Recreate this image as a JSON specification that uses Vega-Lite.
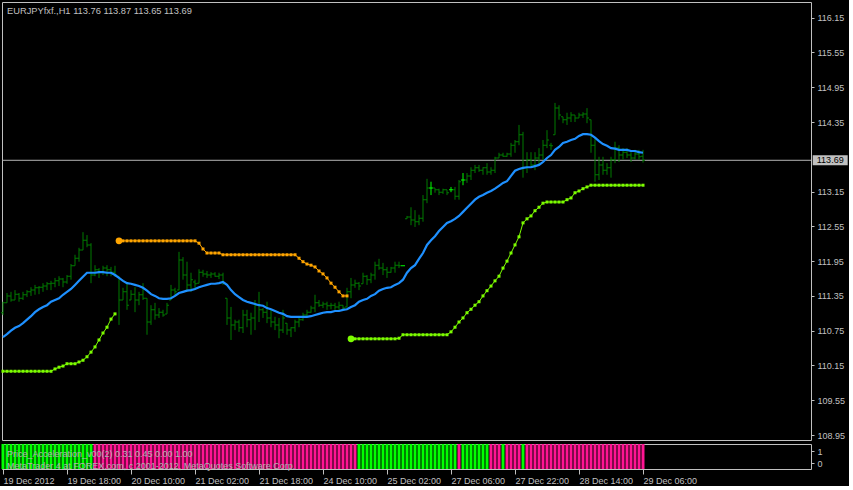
{
"$schema":"https://vega.github.io/schema/vega-lite/v6.json",
"background":"#000000",
"padding":{"left":-2,"top":1,"right":0,"bottom":0},
"spacing":1,
"config":{
 "view":{"stroke":"#c0c0c0","strokeWidth":1},
 "axis":{"domain":false,"grid":false,"labelColor":"#c0c0c0","tickColor":"#c0c0c0","labelFont":"Liberation Sans","labelFontSize":9,"tickSize":3,"labelPadding":3,"labelOverlap":false,"labelFlush":false},
 "text":{"font":"Liberation Sans","fontSize":9}
},
"datasets":{"bars":[
{"i":0,"o":111.06,"h":111.25,"l":111.02,"c":111.23,"ma":110.64,"g":110.05,"gs":"a","pa":"up"},
{"i":1,"o":111.23,"h":111.40,"l":111.23,"c":111.35,"ma":110.69,"g":110.05,"gs":"a","pa":"up"},
{"i":2,"o":111.35,"h":111.42,"l":111.25,"c":111.28,"ma":110.75,"g":110.05,"gs":"a","pa":"up"},
{"i":3,"o":111.28,"h":111.45,"l":111.28,"c":111.38,"ma":110.80,"g":110.05,"gs":"a","pa":"up"},
{"i":4,"o":111.38,"h":111.40,"l":111.25,"c":111.31,"ma":110.83,"g":110.05,"gs":"a","pa":"up"},
{"i":5,"o":111.31,"h":111.42,"l":111.28,"c":111.37,"ma":110.88,"g":110.05,"gs":"a","pa":"up"},
{"i":6,"o":111.37,"h":111.45,"l":111.33,"c":111.42,"ma":110.94,"g":110.05,"gs":"a","pa":"up"},
{"i":7,"o":111.42,"h":111.50,"l":111.35,"c":111.45,"ma":111.00,"g":110.05,"gs":"a","pa":"up"},
{"i":8,"o":111.45,"h":111.54,"l":111.37,"c":111.49,"ma":111.07,"g":110.05,"gs":"a","pa":"up"},
{"i":9,"o":111.49,"h":111.52,"l":111.38,"c":111.50,"ma":111.12,"g":110.05,"gs":"a","pa":"up"},
{"i":10,"o":111.50,"h":111.57,"l":111.42,"c":111.52,"ma":111.16,"g":110.05,"gs":"a","pa":"up"},
{"i":11,"o":111.52,"h":111.59,"l":111.45,"c":111.56,"ma":111.19,"g":110.05,"gs":"a","pa":"up"},
{"i":12,"o":111.56,"h":111.61,"l":111.45,"c":111.57,"ma":111.25,"g":110.05,"gs":"a","pa":"up"},
{"i":13,"o":111.57,"h":111.66,"l":111.50,"c":111.61,"ma":111.28,"g":110.09,"gs":"a","pa":"up"},
{"i":14,"o":111.61,"h":111.69,"l":111.52,"c":111.64,"ma":111.31,"g":110.12,"gs":"a","pa":"up"},
{"i":15,"o":111.64,"h":111.66,"l":111.50,"c":111.59,"ma":111.37,"g":110.14,"gs":"a","pa":"up"},
{"i":16,"o":111.59,"h":111.71,"l":111.56,"c":111.69,"ma":111.42,"g":110.18,"gs":"a","pa":"up"},
{"i":17,"o":111.69,"h":111.90,"l":111.63,"c":111.87,"ma":111.47,"g":110.18,"gs":"a","pa":"up"},
{"i":18,"o":111.87,"h":112.06,"l":111.87,"c":112.00,"ma":111.54,"g":110.18,"gs":"a","pa":"up"},
{"i":19,"o":112.00,"h":112.18,"l":111.94,"c":112.14,"ma":111.61,"g":110.21,"gs":"a","pa":"up"},
{"i":20,"o":112.14,"h":112.45,"l":112.14,"c":112.31,"ma":111.68,"g":110.24,"gs":"a","pa":"up"},
{"i":21,"o":112.31,"h":112.40,"l":112.19,"c":112.23,"ma":111.75,"g":110.30,"gs":"a","pa":"up"},
{"i":22,"o":112.23,"h":112.26,"l":111.57,"c":111.71,"ma":111.75,"g":110.38,"gs":"a","pa":"up"},
{"i":23,"o":111.71,"h":111.88,"l":111.69,"c":111.80,"ma":111.75,"g":110.47,"gs":"a","pa":"down"},
{"i":24,"o":111.80,"h":111.83,"l":111.66,"c":111.76,"ma":111.76,"g":110.59,"gs":"a","pa":"down"},
{"i":25,"o":111.76,"h":111.87,"l":111.71,"c":111.83,"ma":111.76,"g":110.71,"gs":"a","pa":"down"},
{"i":26,"o":111.83,"h":111.88,"l":111.69,"c":111.80,"ma":111.75,"g":110.81,"gs":"a","pa":"down"},
{"i":27,"o":111.80,"h":111.85,"l":111.69,"c":111.76,"ma":111.75,"g":110.95,"gs":"a","pa":"down"},
{"i":28,"o":111.76,"h":111.87,"l":111.68,"c":111.71,"ma":111.71,"g":111.04,"gs":"a","pa":"down"},
{"i":29,"o":111.69,"h":111.69,"l":110.85,"c":111.28,"ma":111.66,"r":112.30,"pa":"down"},
{"i":30,"o":111.28,"h":111.49,"l":111.28,"c":111.42,"ma":111.61,"r":112.30,"pa":"down"},
{"i":31,"o":111.42,"h":111.56,"l":111.11,"c":111.19,"ma":111.57,"r":112.30,"pa":"down"},
{"i":32,"o":111.28,"h":111.45,"l":111.28,"c":111.38,"ma":111.56,"r":112.30,"pa":"down"},
{"i":33,"o":111.38,"h":111.50,"l":111.07,"c":111.28,"ma":111.54,"r":112.30,"pa":"down"},
{"i":34,"o":111.28,"h":111.42,"l":111.19,"c":111.37,"ma":111.52,"r":112.30,"pa":"down"},
{"i":35,"o":111.37,"h":111.57,"l":111.28,"c":111.31,"ma":111.49,"r":112.30,"pa":"down"},
{"i":36,"o":111.31,"h":111.31,"l":110.68,"c":110.90,"ma":111.44,"r":112.30,"pa":"down"},
{"i":37,"o":110.90,"h":111.19,"l":110.85,"c":111.11,"ma":111.38,"r":112.30,"pa":"down"},
{"i":38,"o":111.11,"h":111.23,"l":110.94,"c":111.02,"ma":111.35,"r":112.30,"pa":"down"},
{"i":39,"o":111.02,"h":111.14,"l":110.97,"c":111.07,"ma":111.31,"r":112.30,"pa":"down"},
{"i":40,"o":111.07,"h":111.11,"l":110.99,"c":111.02,"ma":111.30,"r":112.30,"pa":"down"},
{"i":41,"o":111.04,"h":111.23,"l":111.04,"c":111.19,"ma":111.30,"r":112.30,"pa":"down"},
{"i":42,"o":111.28,"h":111.54,"l":111.28,"c":111.45,"ma":111.31,"r":112.30,"pa":"down"},
{"i":43,"o":111.45,"h":111.49,"l":111.35,"c":111.42,"ma":111.35,"r":112.30,"pa":"down"},
{"i":44,"o":111.45,"h":112.11,"l":111.45,"c":111.97,"ma":111.40,"r":112.30,"pa":"down"},
{"i":45,"o":111.97,"h":112.02,"l":111.63,"c":111.71,"ma":111.42,"r":112.30,"pa":"down"},
{"i":46,"o":111.71,"h":111.94,"l":111.42,"c":111.54,"ma":111.44,"r":112.30,"pa":"down"},
{"i":47,"o":111.54,"h":111.75,"l":111.42,"c":111.63,"ma":111.45,"r":112.30,"pa":"down"},
{"i":48,"o":111.59,"h":111.63,"l":111.45,"c":111.56,"ma":111.47,"r":112.30,"pa":"down"},
{"i":49,"o":111.57,"h":111.81,"l":111.57,"c":111.76,"ma":111.50,"r":112.26,"pa":"down"},
{"i":50,"o":111.76,"h":111.80,"l":111.68,"c":111.73,"ma":111.52,"r":112.16,"pa":"down"},
{"i":51,"o":111.73,"h":111.78,"l":111.66,"c":111.71,"ma":111.54,"r":112.09,"pa":"down"},
{"i":52,"o":111.71,"h":111.76,"l":111.66,"c":111.73,"ma":111.56,"r":112.09,"pa":"down"},
{"i":53,"o":111.73,"h":111.76,"l":111.68,"c":111.69,"ma":111.56,"r":112.09,"pa":"down"},
{"i":54,"o":111.69,"h":111.75,"l":111.64,"c":111.71,"ma":111.57,"r":112.09,"pa":"down"},
{"i":55,"o":111.71,"h":111.75,"l":111.54,"c":111.57,"ma":111.59,"r":112.06,"pa":"down"},
{"i":56,"o":111.31,"h":111.31,"l":110.85,"c":110.97,"ma":111.54,"r":112.06,"pa":"down"},
{"i":57,"o":110.97,"h":111.16,"l":110.59,"c":110.85,"ma":111.45,"r":112.06,"pa":"down"},
{"i":58,"o":110.85,"h":110.94,"l":110.76,"c":110.90,"ma":111.38,"r":112.06,"pa":"down"},
{"i":59,"o":110.90,"h":110.94,"l":110.73,"c":110.80,"ma":111.33,"r":112.06,"pa":"down"},
{"i":60,"o":110.80,"h":111.11,"l":110.71,"c":111.02,"ma":111.28,"r":112.06,"pa":"down"},
{"i":61,"o":111.02,"h":111.11,"l":110.81,"c":110.94,"ma":111.25,"r":112.06,"pa":"down"},
{"i":62,"o":110.94,"h":111.06,"l":110.68,"c":110.97,"ma":111.23,"r":112.06,"pa":"down"},
{"i":63,"o":110.97,"h":111.28,"l":110.76,"c":111.19,"ma":111.21,"r":112.06,"pa":"down"},
{"i":64,"o":111.19,"h":111.42,"l":110.90,"c":111.11,"ma":111.19,"r":112.06,"pa":"down"},
{"i":65,"o":111.11,"h":111.14,"l":110.97,"c":111.07,"ma":111.18,"r":112.06,"pa":"down"},
{"i":66,"o":111.07,"h":111.25,"l":110.88,"c":110.97,"ma":111.14,"r":112.06,"pa":"down"},
{"i":67,"o":110.97,"h":111.11,"l":110.81,"c":110.90,"ma":111.12,"r":112.06,"pa":"down"},
{"i":68,"o":110.90,"h":110.99,"l":110.76,"c":110.85,"ma":111.09,"r":112.06,"pa":"down"},
{"i":69,"o":110.85,"h":110.97,"l":110.62,"c":110.76,"ma":111.06,"r":112.06,"pa":"down"},
{"i":70,"o":110.76,"h":111.11,"l":110.71,"c":110.97,"ma":111.04,"r":112.06,"pa":"down"},
{"i":71,"o":110.88,"h":110.88,"l":110.68,"c":110.76,"ma":111.00,"r":112.06,"pa":"down"},
{"i":72,"o":110.76,"h":110.81,"l":110.64,"c":110.80,"ma":110.99,"r":112.06,"pa":"down"},
{"i":73,"o":110.80,"h":110.94,"l":110.73,"c":110.90,"ma":110.99,"r":112.06,"pa":"down"},
{"i":74,"o":110.90,"h":110.99,"l":110.81,"c":110.94,"ma":110.99,"r":112.00,"pa":"down"},
{"i":75,"o":110.94,"h":111.06,"l":110.92,"c":111.02,"ma":110.99,"r":111.94,"pa":"down"},
{"i":76,"o":111.02,"h":111.11,"l":110.99,"c":111.07,"ma":110.99,"r":111.90,"pa":"down"},
{"i":77,"o":111.07,"h":111.18,"l":111.06,"c":111.14,"ma":111.00,"r":111.88,"pa":"down"},
{"i":78,"o":111.14,"h":111.37,"l":111.07,"c":111.23,"ma":111.02,"r":111.85,"pa":"down"},
{"i":79,"o":111.23,"h":111.28,"l":111.16,"c":111.19,"ma":111.04,"r":111.78,"pa":"down"},
{"i":80,"o":111.19,"h":111.25,"l":111.14,"c":111.21,"ma":111.06,"r":111.73,"pa":"down"},
{"i":81,"o":111.21,"h":111.25,"l":111.11,"c":111.18,"ma":111.07,"r":111.66,"pa":"down"},
{"i":82,"o":111.18,"h":111.23,"l":111.12,"c":111.19,"ma":111.07,"r":111.57,"pa":"down"},
{"i":83,"o":111.19,"h":111.23,"l":111.11,"c":111.16,"ma":111.09,"r":111.50,"pa":"down"},
{"i":84,"o":111.16,"h":111.25,"l":111.11,"c":111.19,"ma":111.09,"r":111.42,"pa":"down"},
{"i":85,"o":111.19,"h":111.19,"l":111.11,"c":111.14,"ma":111.11,"r":111.35,"pa":"down"},
{"i":86,"o":111.16,"h":111.49,"l":111.16,"c":111.42,"ma":111.12,"r":111.35,"pa":"down"},
{"i":87,"o":111.42,"h":111.66,"l":111.31,"c":111.54,"ma":111.16,"g":110.61,"gs":"b","pa":"down"},
{"i":88,"o":111.54,"h":111.63,"l":111.49,"c":111.57,"ma":111.19,"g":110.61,"gs":"b","pa":"down"},
{"i":89,"o":111.57,"h":111.59,"l":111.45,"c":111.52,"ma":111.25,"g":110.61,"gs":"b","pa":"up"},
{"i":90,"o":111.56,"h":111.75,"l":111.56,"c":111.69,"ma":111.28,"g":110.61,"gs":"b","pa":"up"},
{"i":91,"o":111.69,"h":111.71,"l":111.54,"c":111.63,"ma":111.30,"g":110.61,"gs":"b","pa":"up"},
{"i":92,"o":111.63,"h":111.75,"l":111.57,"c":111.71,"ma":111.35,"g":110.61,"gs":"b","pa":"up"},
{"i":93,"o":111.71,"h":111.94,"l":111.63,"c":111.88,"ma":111.38,"g":110.61,"gs":"b","pa":"up"},
{"i":94,"o":111.88,"h":111.99,"l":111.80,"c":111.83,"ma":111.44,"g":110.61,"gs":"b","pa":"up"},
{"i":95,"o":111.83,"h":111.92,"l":111.71,"c":111.80,"ma":111.47,"g":110.61,"gs":"b","pa":"up"},
{"i":96,"o":111.80,"h":111.85,"l":111.66,"c":111.76,"ma":111.49,"g":110.61,"gs":"b","pa":"up"},
{"i":97,"o":111.76,"h":111.85,"l":111.75,"c":111.83,"ma":111.50,"g":110.61,"gs":"b","pa":"up"},
{"i":98,"o":111.83,"h":111.94,"l":111.75,"c":111.88,"ma":111.54,"g":110.61,"gs":"b","pa":"up"},
{"i":99,"o":111.88,"h":111.94,"l":111.83,"c":111.87,"ma":111.57,"g":110.62,"gs":"b","pa":"up"},
{"i":100,"o":111.87,"h":111.87,"l":111.87,"c":111.87,"ma":111.63,"g":110.68,"gs":"b","pa":"up"},
{"i":101,"o":112.68,"h":112.73,"l":112.68,"c":112.71,"ma":111.75,"g":110.68,"gs":"b","pa":"up"},
{"i":102,"o":112.71,"h":112.88,"l":112.57,"c":112.66,"ma":111.83,"g":110.68,"gs":"b","pa":"up"},
{"i":103,"o":112.66,"h":112.83,"l":112.54,"c":112.63,"ma":111.88,"g":110.68,"gs":"b","pa":"up"},
{"i":104,"o":112.63,"h":112.75,"l":112.57,"c":112.69,"ma":111.99,"g":110.68,"gs":"b","pa":"up"},
{"i":105,"o":112.69,"h":113.09,"l":112.63,"c":113.01,"ma":112.09,"g":110.68,"gs":"b","pa":"up"},
{"i":106,"o":113.01,"h":113.37,"l":112.95,"c":113.21,"ma":112.23,"g":110.68,"gs":"b","pa":"up"},
{"i":107,"o":113.21,"h":113.32,"l":113.09,"c":113.21,"ma":112.31,"g":110.68,"gs":"b","pa":"up"},
{"i":108,"o":113.21,"h":113.21,"l":113.13,"c":113.18,"ma":112.38,"g":110.68,"gs":"b","pa":"up"},
{"i":109,"o":113.18,"h":113.20,"l":113.09,"c":113.14,"ma":112.47,"g":110.68,"gs":"b","pa":"up"},
{"i":110,"o":113.14,"h":113.20,"l":113.11,"c":113.18,"ma":112.54,"g":110.68,"gs":"b","pa":"up"},
{"i":111,"o":113.18,"h":113.18,"l":113.09,"c":113.13,"ma":112.61,"g":110.68,"gs":"b","pa":"up"},
{"i":112,"o":113.18,"h":113.23,"l":113.14,"c":113.18,"ma":112.64,"g":110.73,"gs":"b","pa":"up"},
{"i":113,"o":113.18,"h":113.23,"l":113.01,"c":113.07,"ma":112.68,"g":110.81,"gs":"b","pa":"up"},
{"i":114,"o":113.07,"h":113.35,"l":113.01,"c":113.32,"ma":112.73,"g":110.90,"gs":"b","pa":"down"},
{"i":115,"o":113.35,"h":113.47,"l":113.26,"c":113.35,"ma":112.80,"g":110.97,"gs":"b","pa":"up"},
{"i":116,"o":113.35,"h":113.47,"l":113.30,"c":113.42,"ma":112.87,"g":111.06,"gs":"b","pa":"up"},
{"i":117,"o":113.42,"h":113.57,"l":113.35,"c":113.52,"ma":112.94,"g":111.12,"gs":"b","pa":"up"},
{"i":118,"o":113.52,"h":113.61,"l":113.47,"c":113.56,"ma":113.01,"g":111.19,"gs":"b","pa":"up"},
{"i":119,"o":113.56,"h":113.61,"l":113.49,"c":113.52,"ma":113.06,"g":111.25,"gs":"b","pa":"up"},
{"i":120,"o":113.52,"h":113.57,"l":113.44,"c":113.56,"ma":113.09,"g":111.35,"gs":"b","pa":"up"},
{"i":121,"o":113.56,"h":113.64,"l":113.44,"c":113.49,"ma":113.13,"g":111.44,"gs":"b","pa":"up"},
{"i":122,"o":113.49,"h":113.57,"l":113.44,"c":113.52,"ma":113.16,"g":111.52,"gs":"b","pa":"down"},
{"i":123,"o":113.52,"h":113.75,"l":113.47,"c":113.73,"ma":113.20,"g":111.61,"gs":"b","pa":"down"},
{"i":124,"o":113.73,"h":113.82,"l":113.73,"c":113.78,"ma":113.25,"g":111.69,"gs":"b","pa":"down"},
{"i":125,"o":113.78,"h":113.82,"l":113.75,"c":113.76,"ma":113.30,"g":111.83,"gs":"b","pa":"up"},
{"i":126,"o":113.76,"h":113.82,"l":113.75,"c":113.80,"ma":113.33,"g":111.95,"gs":"b","pa":"down"},
{"i":127,"o":113.80,"h":113.99,"l":113.75,"c":113.95,"ma":113.42,"g":112.09,"gs":"b","pa":"down"},
{"i":128,"o":113.95,"h":114.04,"l":113.82,"c":114.01,"ma":113.51,"g":112.23,"gs":"b","pa":"down"},
{"i":129,"o":114.01,"h":114.30,"l":113.95,"c":114.13,"ma":113.54,"g":112.37,"gs":"b","pa":"down"},
{"i":130,"o":114.13,"h":114.18,"l":113.39,"c":113.56,"ma":113.56,"g":112.61,"gs":"b","pa":"up"},
{"i":131,"o":113.56,"h":113.83,"l":113.47,"c":113.70,"ma":113.57,"g":112.68,"gs":"b","pa":"down"},
{"i":132,"o":113.70,"h":113.83,"l":113.56,"c":113.61,"ma":113.57,"g":112.73,"gs":"b","pa":"down"},
{"i":133,"o":113.61,"h":113.83,"l":113.52,"c":113.73,"ma":113.59,"g":112.82,"gs":"b","pa":"down"},
{"i":134,"o":113.73,"h":113.90,"l":113.61,"c":113.78,"ma":113.61,"g":112.88,"gs":"b","pa":"down"},
{"i":135,"o":113.78,"h":114.04,"l":113.70,"c":113.95,"ma":113.66,"g":112.95,"gs":"b","pa":"down"},
{"i":136,"o":113.95,"h":114.21,"l":113.90,"c":114.04,"ma":113.73,"g":112.97,"gs":"b","pa":"down"},
{"i":137,"o":113.95,"h":113.99,"l":113.87,"c":113.94,"ma":113.78,"g":112.97,"gs":"b","pa":"down"},
{"i":138,"o":114.13,"h":114.68,"l":114.13,"c":114.59,"ma":113.87,"g":112.97,"gs":"b","pa":"down"},
{"i":139,"o":114.59,"h":114.64,"l":114.39,"c":114.47,"ma":113.92,"g":112.97,"gs":"b","pa":"down"},
{"i":140,"o":114.44,"h":114.44,"l":114.33,"c":114.39,"ma":113.99,"g":112.97,"gs":"b","pa":"down"},
{"i":141,"o":114.39,"h":114.51,"l":114.30,"c":114.42,"ma":114.01,"g":113.01,"gs":"b","pa":"down"},
{"i":142,"o":114.42,"h":114.52,"l":114.35,"c":114.47,"ma":114.04,"g":113.04,"gs":"b","pa":"down"},
{"i":143,"o":114.47,"h":114.47,"l":114.35,"c":114.42,"ma":114.06,"g":113.13,"gs":"b","pa":"down"},
{"i":144,"o":114.42,"h":114.51,"l":114.42,"c":114.47,"ma":114.11,"g":113.16,"gs":"b","pa":"down"},
{"i":145,"o":114.47,"h":114.52,"l":114.42,"c":114.49,"ma":114.14,"g":113.20,"gs":"b","pa":"down"},
{"i":146,"o":114.49,"h":114.59,"l":114.33,"c":114.42,"ma":114.14,"g":113.23,"gs":"b","pa":"down"},
{"i":147,"o":114.39,"h":114.39,"l":113.82,"c":113.95,"ma":114.13,"g":113.26,"gs":"b","pa":"down"},
{"i":148,"o":113.95,"h":114.09,"l":113.32,"c":113.44,"ma":114.08,"g":113.26,"gs":"b","pa":"down"},
{"i":149,"o":113.44,"h":113.75,"l":113.35,"c":113.61,"ma":114.02,"g":113.26,"gs":"b","pa":"down"},
{"i":150,"o":113.61,"h":113.75,"l":113.44,"c":113.52,"ma":113.97,"g":113.26,"gs":"b","pa":"down"},
{"i":151,"o":113.52,"h":113.64,"l":113.44,"c":113.56,"ma":113.94,"g":113.26,"gs":"b","pa":"down"},
{"i":152,"o":113.56,"h":113.75,"l":113.39,"c":113.70,"ma":113.90,"g":113.26,"gs":"b","pa":"down"},
{"i":153,"o":113.70,"h":114.01,"l":113.64,"c":113.90,"ma":113.89,"g":113.26,"gs":"b","pa":"down"},
{"i":154,"o":113.90,"h":113.95,"l":113.66,"c":113.78,"ma":113.87,"g":113.26,"gs":"b","pa":"down"},
{"i":155,"o":113.78,"h":113.90,"l":113.70,"c":113.83,"ma":113.87,"g":113.26,"gs":"b","pa":"down"},
{"i":156,"o":113.83,"h":113.90,"l":113.73,"c":113.78,"ma":113.87,"g":113.26,"gs":"b","pa":"down"},
{"i":157,"o":113.78,"h":113.83,"l":113.66,"c":113.73,"ma":113.85,"g":113.26,"gs":"b","pa":"down"},
{"i":158,"o":113.73,"h":113.87,"l":113.70,"c":113.80,"ma":113.85,"g":113.26,"gs":"b","pa":"down"},
{"i":159,"o":113.80,"h":113.87,"l":113.70,"c":113.75,"ma":113.83,"g":113.26,"gs":"b","pa":"down"},
{"i":160,"o":113.76,"h":113.87,"l":113.65,"c":113.69,"ma":113.82,"g":113.26,"gs":"b","pa":"down"}
]},
"vconcat":[
{
 "width":809,"height":438,
 "data":{"name":"bars"},
 "layer":[
  {"transform":[{"filter":"datum.i == 160"}],
   "mark":{"type":"rule","color":"#b4b4b4","strokeWidth":1},
   "encoding":{"y":{"field":"c","type":"quantitative","title":null,"scale":{"domain":[108.864,116.421],"nice":false,"zero":false},
     "axis":{"orient":"right","values":[108.95,109.55,110.15,110.75,111.35,111.95,112.55,113.15,114.35,114.95,115.55,116.15],"tickCount":30,"format":".2f","title":null,"zindex":0,"labelOverlap":false,"labelBound":false}}}},
  {"mark":{"type":"rule","strokeWidth":1},
   "encoding":{
    "x":{"field":"i","type":"quantitative","scale":{"domain":[-0.25,202]},"axis":null},
    "y":{"field":"h","type":"quantitative","title":null,"scale":{"domain":[108.864,116.421],"nice":false,"zero":false}},
    "y2":{"field":"l"},
    "color":{"condition":{"test":"datum.o == datum.c","value":"#00FF00"},"value":"#007a00"}}},
  {"mark":{"type":"tick","orient":"horizontal","size":2,"thickness":1,"xOffset":-1,"opacity":1},
   "encoding":{
    "x":{"field":"i","type":"quantitative","scale":{"domain":[-0.25,202]},"axis":null},
    "y":{"field":"o","type":"quantitative","title":null,"scale":{"domain":[108.864,116.421],"nice":false,"zero":false}},
    "color":{"condition":{"test":"datum.o == datum.c","value":"#00FF00"},"value":"#007a00"}}},
  {"mark":{"type":"tick","orient":"horizontal","size":2,"thickness":1,"xOffset":1,"opacity":1},
   "encoding":{
    "x":{"field":"i","type":"quantitative","scale":{"domain":[-0.25,202]},"axis":null},
    "y":{"field":"c","type":"quantitative","title":null,"scale":{"domain":[108.864,116.421],"nice":false,"zero":false}},
    "color":{"condition":{"test":"datum.o == datum.c","value":"#00FF00"},"value":"#007a00"}}},
  {"mark":{"type":"line","color":"#1E90FF","strokeWidth":2.2},
   "encoding":{
    "x":{"field":"i","type":"quantitative","scale":{"domain":[-0.25,202]},"axis":null},
    "y":{"field":"ma","type":"quantitative","title":null,"scale":{"domain":[108.864,116.421],"nice":false,"zero":false}}}},
  {"transform":[{"filter":"isValid(datum.g)"}],
   "mark":{"type":"line","color":"#7CFC00","strokeWidth":1,"point":{"shape":"square","size":9,"filled":true,"color":"#7CFC00","opacity":1}},
   "encoding":{
    "x":{"field":"i","type":"quantitative","scale":{"domain":[-0.25,202]},"axis":null},
    "y":{"field":"g","type":"quantitative","title":null,"scale":{"domain":[108.864,116.421],"nice":false,"zero":false}},
    "detail":{"field":"gs","type":"nominal"}}},
  {"transform":[{"filter":"isValid(datum.r)"}],
   "mark":{"type":"line","color":"#FFA500","strokeWidth":1,"point":{"shape":"square","size":9,"filled":true,"color":"#FFA500","opacity":1}},
   "encoding":{
    "x":{"field":"i","type":"quantitative","scale":{"domain":[-0.25,202]},"axis":null},
    "y":{"field":"r","type":"quantitative","title":null,"scale":{"domain":[108.864,116.421],"nice":false,"zero":false}}}},
  {"transform":[{"filter":"datum.i == 29"}],
   "mark":{"type":"circle","size":45,"color":"#FFA500","opacity":1},
   "encoding":{
    "x":{"field":"i","type":"quantitative","scale":{"domain":[-0.25,202]},"axis":null},
    "y":{"field":"r","type":"quantitative","title":null,"scale":{"domain":[108.864,116.421],"nice":false,"zero":false}}}},
  {"transform":[{"filter":"datum.i == 87"}],
   "mark":{"type":"circle","size":45,"color":"#7CFC00","opacity":1},
   "encoding":{
    "x":{"field":"i","type":"quantitative","scale":{"domain":[-0.25,202]},"axis":null},
    "y":{"field":"g","type":"quantitative","title":null,"scale":{"domain":[108.864,116.421],"nice":false,"zero":false}}}},
  {"transform":[{"filter":"datum.i == 160"},{"calculate":"'EURJPYfxf.,H1  ' + format(datum.o,'.2f') + ' ' + format(datum.h,'.2f') + ' ' + format(datum.l,'.2f') + ' ' + format(datum.c,'.2f')","as":"head"}],
   "mark":{"type":"text","align":"left","baseline":"middle","color":"#c0c0c0","fontSize":9.3},
   "encoding":{
    "x":{"datum":1,"type":"quantitative","scale":{"domain":[-0.25,202]},"axis":null},
    "y":{"datum":116.27,"type":"quantitative","title":null,"scale":{"domain":[108.864,116.421],"nice":false,"zero":false}},
    "text":{"field":"head"}}},
  {"transform":[{"filter":"datum.i == 160"}],
   "mark":{"type":"point","shape":"M-1.75,-0.5L1.75,-0.5L1.75,0.5L-1.75,0.5Z","size":400,"filled":true,"color":"#c0c0c0","opacity":1,"strokeWidth":0},
   "encoding":{
    "x":{"datum":206.8,"type":"quantitative","scale":{"domain":[-0.25,202]},"axis":null},
    "y":{"field":"c","type":"quantitative","title":null,"scale":{"domain":[108.864,116.421],"nice":false,"zero":false}}}},
  {"transform":[{"filter":"datum.i == 160"}],
   "mark":{"type":"text","align":"center","baseline":"middle","color":"#000000","fontSize":9},
   "encoding":{
    "x":{"datum":206.8,"type":"quantitative","scale":{"domain":[-0.25,202]},"axis":null},
    "y":{"field":"c","type":"quantitative","title":null,"scale":{"domain":[108.864,116.421],"nice":false,"zero":false}},
    "text":{"field":"c","type":"quantitative","format":".2f"}}}
 ]
},
{
 "width":809,"height":25,
 "layer":[
  {"data":{"name":"bars"},
   "mark":{"type":"rule","strokeWidth":3},
   "encoding":{
    "x":{"field":"i","type":"quantitative","scale":{"domain":[-0.25,202]},
      "axis":{"values":[0,16,32,48,64,80,96,112,128,144,160],"tickCount":30,"labelExpr":"['19 Dec 2012','19 Dec 18:00','20 Dec 10:00','21 Dec 02:00','21 Dec 18:00','24 Dec 10:00','25 Dec 02:00','27 Dec 06:00','27 Dec 22:00','28 Dec 14:00','29 Dec 06:00'][round(datum.value/16)]","labelAlign":"left","tickSize":5,"labelPadding":2,"title":null,"labelOverlap":false}},
    "color":{"field":"pa","type":"nominal","scale":{"domain":["up","down"],"range":["#00FF00","#FF1493"]},"legend":null}}},
  {"data":{"values":[{"t":"Price_Acceleration_v00(2) 0.31 0.45 0.00 1.00"}]},
   "mark":{"type":"text","align":"left","baseline":"middle","color":"#b0b0b0"},
   "encoding":{
    "x":{"datum":1,"type":"quantitative","scale":{"domain":[-0.25,202]},"title":null},
    "y":{"datum":0.78,"type":"quantitative","scale":{"domain":[-0.46,1.57],"nice":false,"zero":false},"axis":{"orient":"right","values":[0,1],"tickCount":5,"format":"d","title":null,"labelOverlap":false}},
    "text":{"field":"t"}}},
  {"data":{"values":[{"t":"MetaTrader 4 at FOREX.com, c 2001-2012, MetaQuotes Software Corp."}]},
   "mark":{"type":"text","align":"left","baseline":"middle","color":"#b0b0b0"},
   "encoding":{
    "x":{"datum":1,"type":"quantitative","scale":{"domain":[-0.25,202]},"title":null},
    "y":{"datum":-0.19,"type":"quantitative","scale":{"domain":[-0.46,1.57],"nice":false,"zero":false},"title":null},
    "text":{"field":"t"}}}
 ]
}
]
}
